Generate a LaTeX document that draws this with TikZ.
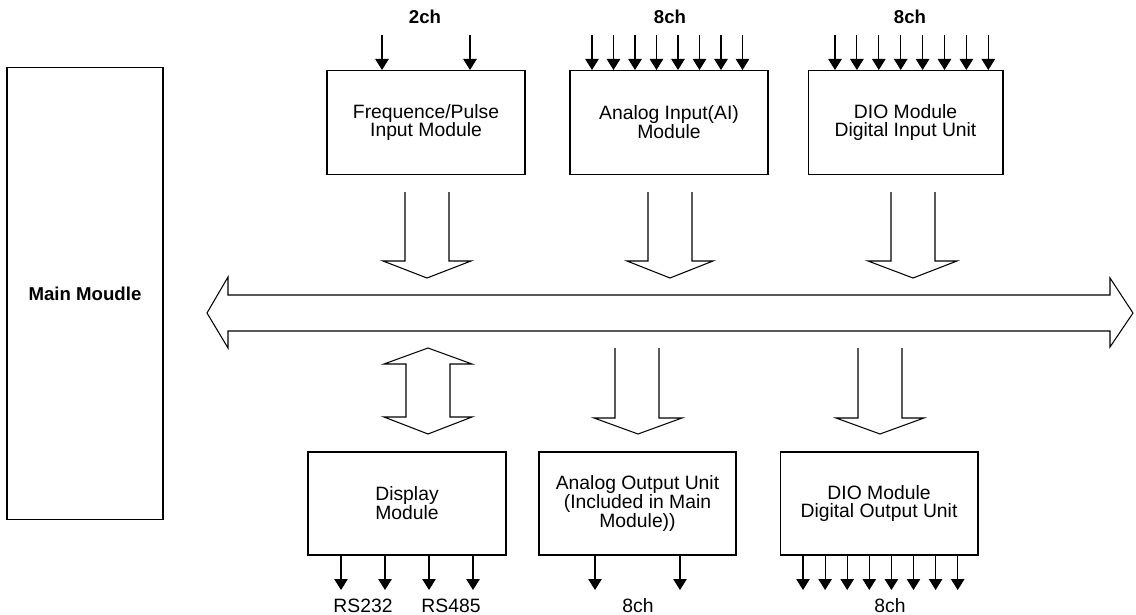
\documentclass[tikz,border=0pt]{standalone}
\usepackage{fontspec}
\setmainfont{Liberation Sans}
\usetikzlibrary{arrows.meta}
\begin{document}
\begin{tikzpicture}[x={(0.02cm,0)},y={(0,-0.02cm)},
  line width=0.6pt,
  every node/.style={font=\fontsize{11}{10.8}\selectfont, align=center, inner sep=0pt},
  modbox/.style={draw, minimum width=3.96cm, minimum height=2.08cm},
  sig/.style={-{Triangle[length=0.22cm,width=0.27cm]}},
  lbl/.style={font=\fontsize{11}{10.8}\selectfont},
  boldlbl/.style={font=\fontsize{10.6}{10.8}\selectfont\bfseries},
  blk/.style={draw, line join=miter}
]
\useasboundingbox (0,0) rectangle (1136,615);

% main module
\node[draw, minimum width=3.12cm, minimum height=9.06cm, boldlbl] (main) at (85,293.5) {Main Moudle};

% top modules
\node[modbox] (fp) at (426,122.5) {Frequence/Pulse\\Input Module};
\node[modbox] (ai) at (669,122.5) {Analog Input(AI)\\Module};
\node[modbox, minimum width=3.9cm] (dii) at (905.5,122.5) {DIO Module\\Digital Input Unit};

% bottom modules
\node[modbox, minimum height=2.06cm] (disp) at (407,503.5) {Display\\Module};
\node[modbox, minimum width=3.94cm, minimum height=2.06cm] (ao) at (637.5,503.5) {Analog Output Unit\\(Included in Main\\Module))};
\node[modbox, minimum height=2.06cm] (dio) at (879,503.5) {DIO Module\\Digital Output Unit};

% top labels
\node[boldlbl] (l2ch) at (425,17) {2ch};
\node[boldlbl] (l8ai) at (670,17) {8ch};
\node[boldlbl] (l8di) at (910,17) {8ch};

% bottom labels
\node[lbl] (rs232) at (363,606) {RS232};
\node[lbl] (rs485) at (451,606) {RS485};
\node[lbl] (l8ao) at (638,606) {8ch};
\node[lbl] (l8do) at (890,606) {8ch};

% input signal arrows
\foreach \x [count=\i] in {382,470}{
  \coordinate (fpin\i) at (\x,35);
  \draw[sig] (fpin\i) -- (fpin\i |- fp.north);
}
\foreach \i in {0,...,7}{
  \coordinate (aiin\i) at ({592+21.5*\i},35);
  \draw[sig] (aiin\i) -- (aiin\i |- ai.north);
  \coordinate (diin\i) at ({835+21.9*\i},35);
  \draw[sig] (diin\i) -- (diin\i |- dii.north);
}

% output signal arrows
\foreach \x [count=\i] in {341,385,429,473}{
  \coordinate (dispout\i) at (\x,590);
  \draw[sig] (dispout\i |- disp.south) -- (dispout\i);
}
\foreach \x [count=\i] in {595,680}{
  \coordinate (aoout\i) at (\x,590);
  \draw[sig] (aoout\i |- ao.south) -- (aoout\i);
}
\foreach \i in {0,...,7}{
  \coordinate (doout\i) at ({803+22.1*\i},590);
  \draw[sig] (doout\i |- dio.south) -- (doout\i);
}

% bus
\draw[blk] (228,295) -- (1110,295) -- (1110,278) -- (1133,313) -- (1110,347) -- (1110,331)
  -- (228,331) -- (228,348) -- (207,313) -- (228,277) -- cycle;

% block arrows to bus
\draw[blk] (405,192) -- (405,261) -- (383,261) -- (427,278) -- (471,261) -- (449,261) -- (449,192);
\draw[blk] (648,192) -- (648,261) -- (627,261) -- (670,278) -- (713,261) -- (692,261) -- (692,192);
\draw[blk] (891,192) -- (891,261) -- (868,261) -- (913,278) -- (957,261) -- (935,261) -- (935,192);

% block arrows from bus
\draw[blk] (428,348) -- (472,364) -- (450,364) -- (450,417) -- (472,417) -- (428,434)
  -- (384,417) -- (406,417) -- (406,364) -- (384,364) -- cycle;
\draw[blk] (615,348) -- (615,418) -- (594,418) -- (638,434) -- (682,418) -- (659,418) -- (659,348);
\draw[blk] (858,348) -- (858,418) -- (836,418) -- (880,434) -- (924,418) -- (902,418) -- (902,348);
\end{tikzpicture}
\end{document}
